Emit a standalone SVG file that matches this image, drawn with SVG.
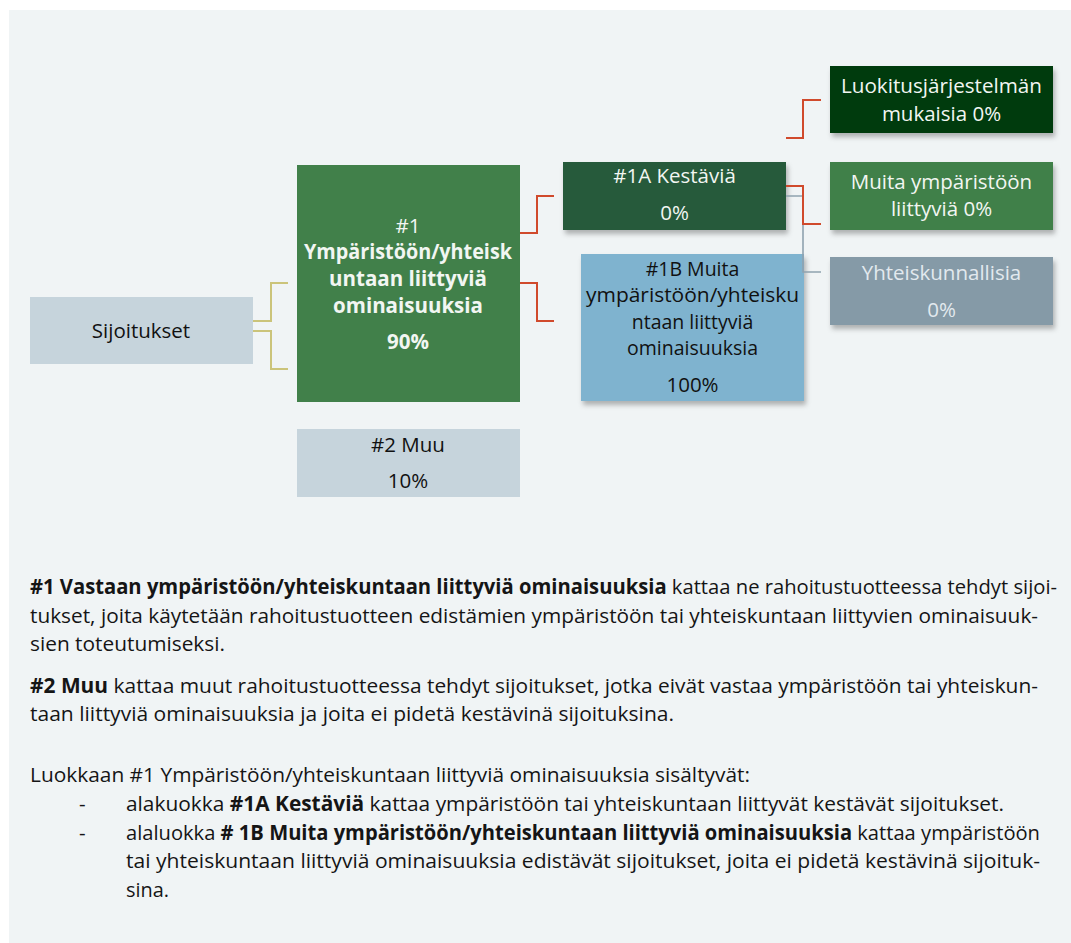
<svg xmlns="http://www.w3.org/2000/svg" width="1071" height="943" viewBox="0 0 1071 943">
<defs>
<filter id="sh" x="-10%" y="-10%" width="130%" height="140%">
<feDropShadow dx="2" dy="4" stdDeviation="2.5" flood-color="#000" flood-opacity="0.28"/>
</filter>
<style>
.t{font-family:"Open Sans","Liberation Sans",sans-serif;font-size:20.5px;text-anchor:middle}
.s{font-size:19.5px}
.w{fill:#f2f6f2}
.k{fill:#111}
.b{font-weight:bold}
.p{font-family:"Open Sans","Liberation Sans",sans-serif;font-size:20.5px;fill:#151515}
.red{fill:none;stroke:#d04a2c;stroke-width:2}
.yel{fill:none;stroke:#cbc47a;stroke-width:2}
.gry{fill:none;stroke:#8fa2af;stroke-width:1.6}
</style>
</defs>
<rect x="0" y="0" width="1071" height="943" fill="#ffffff"/>
<rect x="9" y="10" width="1062" height="933" fill="#f0f4f5"/>

<g id="n-sijoitukset">
<rect x="30" y="297" width="223" height="67" fill="#c6d4dc"/>
<text class="t k" x="141" y="338">Sijoitukset</text>
</g>

<g id="n-1">
<rect x="297" y="165" width="223" height="237" fill="#41804a"/>
<text class="t w" x="408" y="233">#1</text>
<text class="t w b" x="408" y="259" textLength="208" lengthAdjust="spacingAndGlyphs">Ympäristöön/yhteisk</text>
<text class="t w b" x="408" y="286">untaan liittyviä</text>
<text class="t w b" x="408" y="313">ominaisuuksia</text>
<text class="t w b" x="408" y="349">90%</text>
</g>

<g id="n-2">
<rect x="297" y="429" width="223" height="68" fill="#c6d4dc"/>
<text class="t k" x="408" y="452">#2 Muu</text>
<text class="t k" x="408" y="488">10%</text>
</g>

<g id="n-1a">
<rect x="563" y="162" width="223" height="68" fill="#265a3b" filter="url(#sh)"/>
<text class="t w" x="674.5" y="183">#1A Kestäviä</text>
<text class="t w" x="674.5" y="220">0%</text>
</g>

<g id="n-1b">
<rect x="581" y="254" width="223" height="147" fill="#7fb3cf" filter="url(#sh)"/>
<text class="t s k" x="692.5" y="276">#1B Muita</text>
<text class="t s k" x="692.5" y="302" textLength="213" lengthAdjust="spacingAndGlyphs">ympäristöön/yhteisku</text>
<text class="t s k" x="692.5" y="329">ntaan liittyviä</text>
<text class="t s k" x="692.5" y="355">ominaisuuksia</text>
<text class="t k" x="692.5" y="392">100%</text>
</g>

<g id="n-luokitus">
<rect x="830" y="66" width="223" height="67" fill="#033a0c" filter="url(#sh)"/>
<text class="t w" x="941.5" y="93" textLength="201" lengthAdjust="spacingAndGlyphs">Luokitusjärjestelmän</text>
<text class="t w" x="941.5" y="121">mukaisia 0%</text>
</g>

<g id="n-muita">
<rect x="830" y="162" width="223" height="68" fill="#41804a" filter="url(#sh)"/>
<text class="t w" x="941.5" y="189">Muita ympäristöön</text>
<text class="t w" x="941.5" y="216">liittyviä 0%</text>
</g>

<g id="n-yhteis">
<rect x="830" y="257" width="223" height="68" fill="#859aa7" filter="url(#sh)"/>
<text class="t" x="941.5" y="280" fill="#e2e9ee">Yhteiskunnallisia</text>
<text class="t" x="941.5" y="317" fill="#e2e9ee">0%</text>
</g>

<g id="connectors">
<path class="yel" d="M253 321 H271 V283 H288"/>
<path class="yel" d="M253 331 H271 V369 H288"/>
<path class="red" d="M520 233 H537 V196 H554"/>
<path class="red" d="M520 283 H537 V321 H554"/>
<path class="gry" d="M786 196 H803 V272 H821"/>
<path class="red" d="M786 138 H803 V100 H821"/>
<path class="red" d="M786 186 H803 V224 H821"/>
</g>

<g id="notes">
<text class="p" x="30" y="594" textLength="1027" lengthAdjust="spacingAndGlyphs"><tspan font-weight="bold">#1 Vastaan ympäristöön/yhteiskuntaan liittyviä ominaisuuksia</tspan> kattaa ne rahoitustuotteessa tehdyt sijoi-</text>
<text class="p" x="30" y="623" textLength="1008" lengthAdjust="spacingAndGlyphs">tukset, joita käytetään rahoitustuotteen edistämien ympäristöön tai yhteiskuntaan liittyvien ominaisuuk-</text>
<text class="p" x="30" y="651" textLength="195" lengthAdjust="spacingAndGlyphs">sien toteutumiseksi.</text>
<text class="p" x="30" y="693" textLength="1008" lengthAdjust="spacingAndGlyphs"><tspan font-weight="bold">#2 Muu</tspan> kattaa muut rahoitustuotteessa tehdyt sijoitukset, jotka eivät vastaa ympäristöön tai yhteiskun-</text>
<text class="p" x="30" y="721" textLength="644" lengthAdjust="spacingAndGlyphs">taan liittyviä ominaisuuksia ja joita ei pidetä kestävinä sijoituksina.</text>
<text class="p" x="30" y="782" textLength="720" lengthAdjust="spacingAndGlyphs">Luokkaan #1 Ympäristöön/yhteiskuntaan liittyviä ominaisuuksia sisältyvät:</text>
<text class="p" x="79" y="811">-</text>
<text class="p" x="126" y="811" textLength="878" lengthAdjust="spacingAndGlyphs">alakuokka <tspan font-weight="bold">#1A Kestäviä</tspan> kattaa ympäristöön tai yhteiskuntaan liittyvät kestävät sijoitukset.</text>
<text class="p" x="79" y="840">-</text>
<text class="p" x="126" y="840" textLength="914" lengthAdjust="spacingAndGlyphs">alaluokka <tspan font-weight="bold"># 1B Muita ympäristöön/yhteiskuntaan liittyviä ominaisuuksia</tspan> kattaa ympäristöön</text>
<text class="p" x="126" y="868" textLength="914" lengthAdjust="spacingAndGlyphs">tai yhteiskuntaan liittyviä ominaisuuksia edistävät sijoitukset, joita ei pidetä kestävinä sijoituk-</text>
<text class="p" x="126" y="897" textLength="43" lengthAdjust="spacingAndGlyphs">sina.</text>
</g>
</svg>
